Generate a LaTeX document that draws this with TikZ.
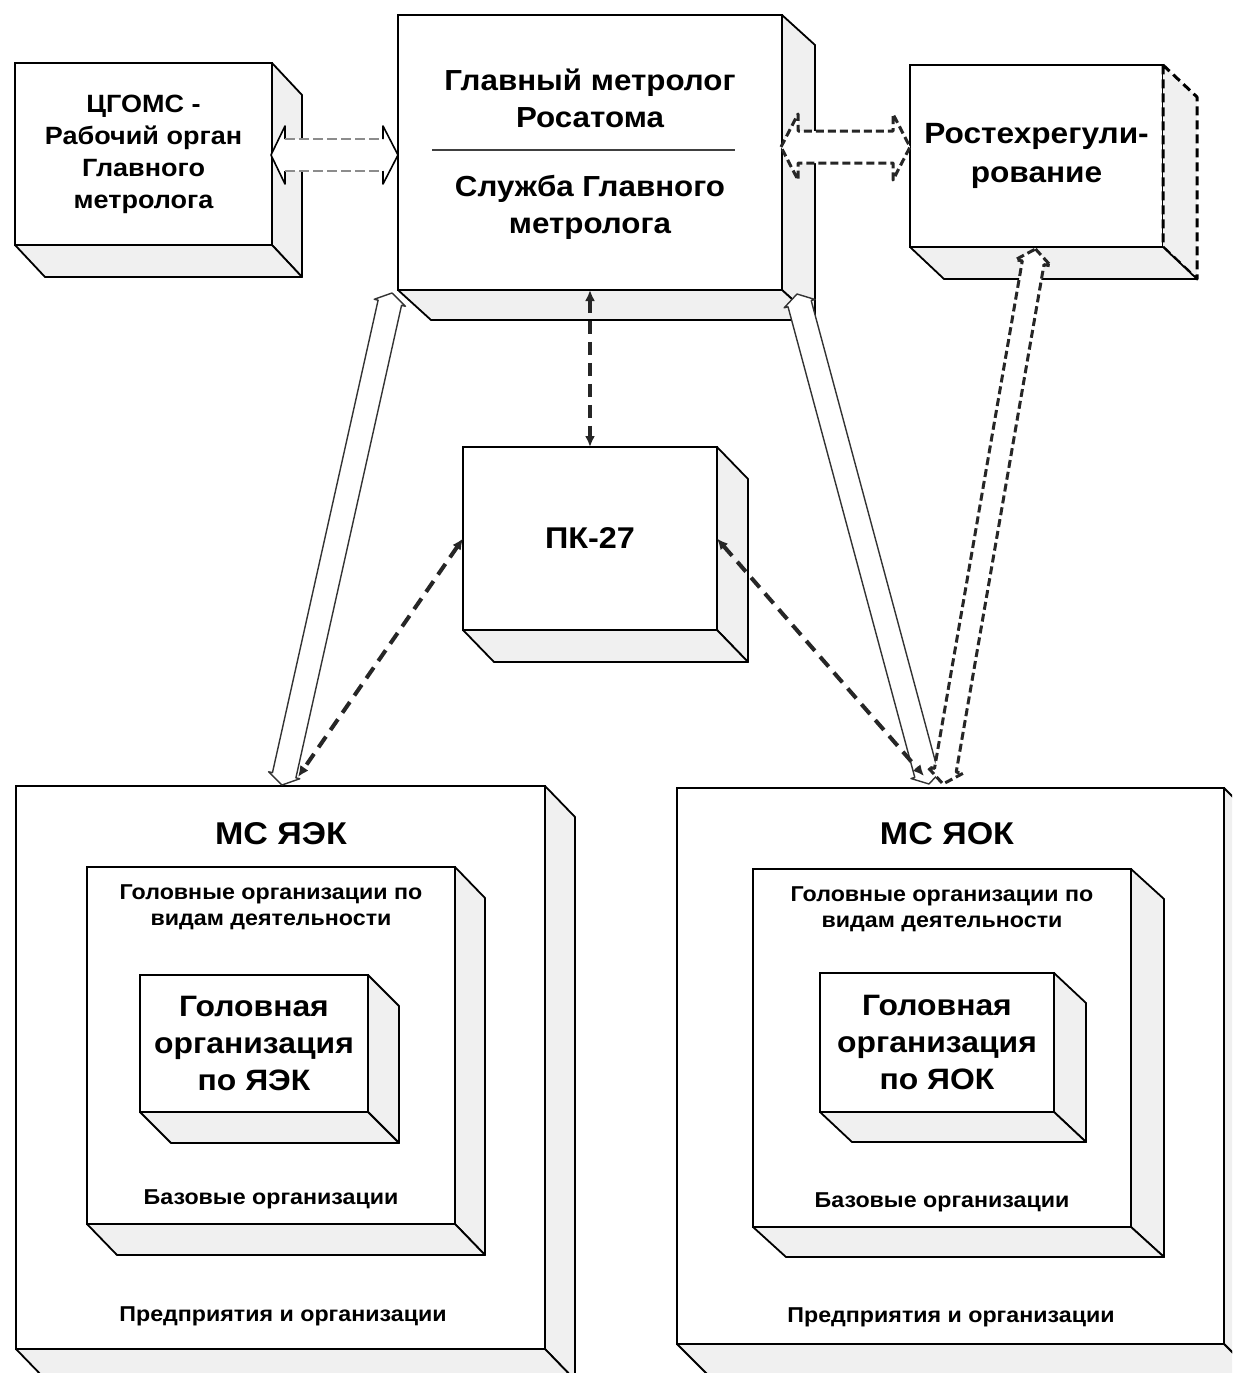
\documentclass[tikz,border=0pt]{standalone}
\usepackage{fontspec}
\setmainfont[FakeStretch=1.08]{Liberation Sans}
\usetikzlibrary{calc,arrows.meta}

\newcommand{\ftitle}{\fontsize{29}{37}\selectfont\bfseries}
\newcommand{\fcg}{\fontsize{25}{32}\selectfont\bfseries}
\newcommand{\frt}{\fontsize{29.3}{39}\selectfont\bfseries}
\newcommand{\fpk}{\fontsize{30}{37}\selectfont\bfseries}
\newcommand{\fms}{\fontsize{31.5}{37}\selectfont\bfseries}
\newcommand{\fhead}{\fontsize{29.5}{37}\selectfont\bfseries}
\newcommand{\fsmall}{\fontsize{21.5}{26}\selectfont\bfseries}

\newcommand{\extrude}[4][]{%
  \draw[face,#1] (#2.north east) -- ++(#3,#4) -- ($(#2.south east)+(#3,#4)$) -- (#2.south east) -- cycle;
  \draw[face] (#2.south west) -- ++(#3,#4) -- ($(#2.south east)+(#3,#4)$) -- (#2.south east) -- cycle;}

\newcommand{\barrow}[6]{%
  \coordinate (ba1) at ($(#2)!#6!(#3)$);
  \coordinate (ba2) at ($(#3)!#6!(#2)$);
  \draw[#1] (#2) -- ($(ba1)!#5!90:(#3)$) -- ($(ba1)!#4!90:(#3)$) -- ($(ba2)!#4!-90:(#2)$)
    -- ($(ba2)!#5!-90:(#2)$) -- (#3) -- ($(ba2)!#5!90:(#2)$) -- ($(ba2)!#4!90:(#2)$)
    -- ($(ba1)!#4!-90:(#3)$) -- ($(ba1)!#5!-90:(#3)$) -- cycle;}

\tikzset{
  front/.style={draw=black, line width=1.8pt, fill=white, inner sep=0pt, outer sep=0pt,
    align=center, anchor=north west},
  face/.style={draw=black, line width=1.8pt, fill=black!6, line join=round},
  txt/.style={inner sep=0pt, align=center},
  dline/.style={draw=black!85, line width=4pt, dash pattern=on 13pt off 8pt,
    {Latex[length=11pt,width=10pt]}-{Latex[length=11pt,width=10pt]}},
  hollow/.style={draw=black!80, line width=1.4pt, fill=white, line join=round},
  dhollow/.style={draw=black!85, line width=3pt, dash pattern=on 8pt off 4pt, fill=white, line join=round},
}

\begin{document}
\begin{tikzpicture}[x=1pt, y=-1pt]
\useasboundingbox (0,0) rectangle (1232,1373);
\fill[white] (0,0) rectangle (1232,1373);
\clip (0,0) rectangle (1232,1373);

% ---- top boxes
\node[front, minimum width=257pt, minimum height=182pt, font=\fcg] (c) at (15,63)
  {ЦГОМС -\\Рабочий орган\\Главного\\метролога};
\extrude{c}{30}{32}

\node[front, minimum width=384pt, minimum height=275pt] (g) at (398,15) {};
\extrude{g}{33}{30}
\node[txt, font=\ftitle] (g1) at ($(g.north)+(0,83)$) {Главный метролог\\Росатома};
\draw[line width=1.8pt, black!75] ($(g.north west)+(34,135)$) coordinate (dl) -- ($(g.north east)+(-47,135)$) coordinate (dr);
\node[txt, font=\ftitle] (g2) at ($(g.north)+(0,192)$) {Служба Главного\\метролога};

\node[front, minimum width=253pt, minimum height=182pt, font=\frt] (r) at (910,65)
  {Ростехрегули-\\рование};
\extrude[dash pattern=on 9pt off 5pt, line width=3pt]{r}{34}{32}

\node[front, minimum width=254pt, minimum height=183pt, font=\fpk] (p) at (463,447) {ПК-27};
\extrude{p}{31}{32}

% ---- МС ЯЭК
\node[front, minimum width=529pt, minimum height=563pt] (m1) at (16,786) {};
\extrude{m1}{30}{31}
\node[txt, font=\fms] (m1t) at ($(m1.north west)+(265,48)$) {МС ЯЭК};
\node[txt, font=\fsmall] (m1b) at ($(m1.north west)+(267,530)$) {Предприятия и организации};
\node[front, minimum width=368pt, minimum height=357pt] (m1m) at (87,867) {};
\extrude{m1m}{30}{31}
\node[txt, font=\fsmall] (m1mt) at ($(m1m.north)+(0,40)$) {Головные организации по\\видам деятельности};
\node[txt, font=\fsmall] (m1mb) at ($(m1m.north)+(0,332)$) {Базовые организации};
\node[front, minimum width=228pt, minimum height=137pt, font=\fhead] (m1i) at (140,975)
  {Головная\\организация\\по ЯЭК};
\extrude{m1i}{31}{31}

% ---- МС ЯОК
\node[front, minimum width=547pt, minimum height=556pt] (m2) at (677,788) {};
\extrude{m2}{30}{30}
\node[txt, font=\fms] (m2t) at ($(m2.north west)+(270,46)$) {МС ЯОК};
\node[txt, font=\fsmall] (m2b) at ($(m2.north west)+(274,529)$) {Предприятия и организации};
\node[front, minimum width=378pt, minimum height=358pt] (m2m) at (753,869) {};
\extrude{m2m}{33}{30}
\node[txt, font=\fsmall] (m2mt) at ($(m2m.north)+(0,40)$) {Головные организации по\\видам деятельности};
\node[txt, font=\fsmall] (m2mb) at ($(m2m.north)+(0,333)$) {Базовые организации};
\node[front, minimum width=234pt, minimum height=139pt, font=\fhead] (m2i) at (820,973)
  {Головная\\организация\\по ЯОК};
\extrude{m2i}{32}{30}

% ---- connectors
% ЦГОМС <-> Главный метролог
\coordinate (cg1) at ($(c.east)+(-1,1)$);
\coordinate (cg2) at ($(cg1 -| g.west)$);
\fill[white] (cg1) -- ($(cg1)+(14,-29)$) -- ($(cg1)+(14,-16)$) -- ($(cg2)+(-15,-16)$) -- ($(cg2)+(-15,-29)$)
  -- (cg2) -- ($(cg2)+(-15,29)$) -- ($(cg2)+(-15,16)$) -- ($(cg1)+(14,16)$) -- ($(cg1)+(14,29)$) -- cycle;
\draw[line width=1.6pt, line join=round] ($(cg1)+(14,-16)$) -- ($(cg1)+(14,-29)$) -- (cg1) -- ($(cg1)+(14,29)$) -- ($(cg1)+(14,16)$);
\draw[line width=1.6pt, line join=round] ($(cg2)+(-15,-16)$) -- ($(cg2)+(-15,-29)$) -- (cg2) -- ($(cg2)+(-15,29)$) -- ($(cg2)+(-15,16)$);
\draw[black!45, line width=1.4pt, dash pattern=on 10pt off 4pt] ($(cg1)+(14,-16)$) -- ($(cg2)+(-15,-16)$);
\draw[black!45, line width=1.4pt, dash pattern=on 10pt off 4pt] ($(cg1)+(14,16)$) -- ($(cg2)+(-15,16)$);

% Главный метролог <-> Ростехрегулирование
\coordinate (gr1) at ($(g.east)+(-1,-5.5)$);
\coordinate (gr2) at ($(gr1 -| r.west)$);
\barrow{dhollow}{gr1}{gr2}{16pt}{33pt}{17pt}

% Главный метролог <-> ПК-27
\draw[dline] (g.south) -- (p.north);

% long hollow arrows
\coordinate (ga) at ($(g.south west)+(-6,3)$);
\coordinate (m1a) at ($(m1.north west)+(266,-1)$);
\barrow{hollow}{ga}{m1a}{12pt}{16pt}{10pt}
\coordinate (gb) at ($(g.south east)+(15,4)$);
\coordinate (m2a) at ($(m2.north west)+(252,-4)$);
\barrow{hollow}{gb}{m2a}{12pt}{16pt}{10pt}

% Ростехрегулирование <-> МС ЯОК
\coordinate (ra) at ($(r.south)+(-1,2)$);
\coordinate (m2b) at ($(m2.north west)+(266,-4)$);
\barrow{dhollow}{ra}{m2b}{11pt}{18pt}{14pt}

% ПК-27 <-> МС
\coordinate (m1c) at ($(m1.north west)+(282,-9)$);
\draw[dline] (p.west) -- (m1c);
\coordinate (m2c) at ($(m2.north west)+(247,-12)$);
\draw[dline] (p.east) -- (m2c);
\end{tikzpicture}
\end{document}
